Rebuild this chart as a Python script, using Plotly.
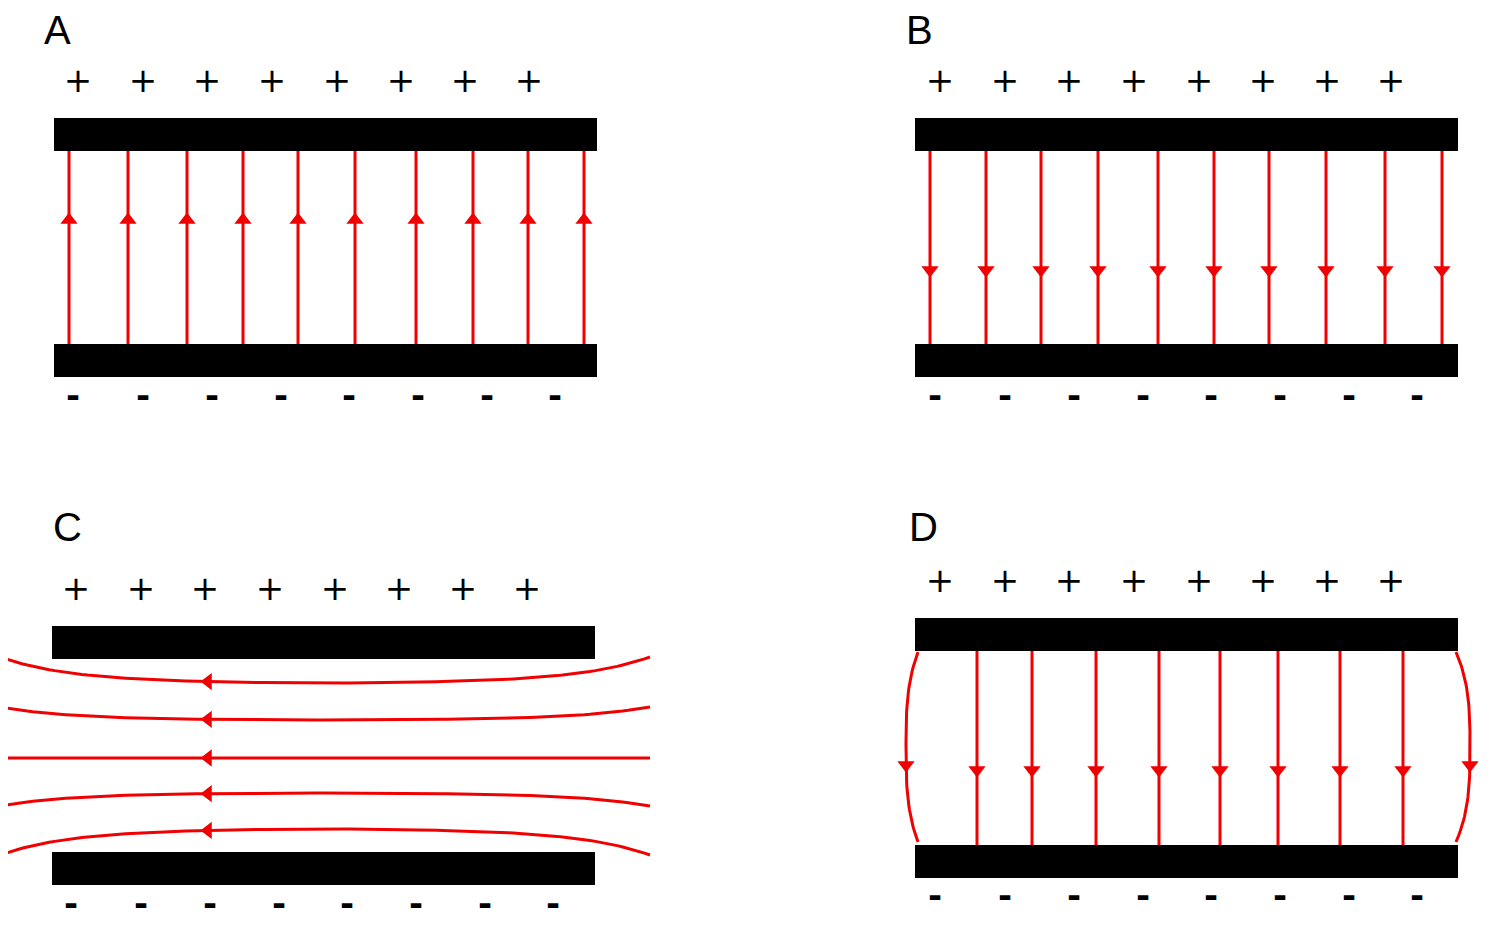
import plotly.graph_objects as go
import numpy as np

RED = "#f00000"
plus_x = [78, 143, 207, 272, 337, 401, 465, 529]
minus_x = [73, 143, 212, 281, 349, 418, 487, 555]
a_lines = [69, 128, 187, 243, 298, 355, 416, 473, 528, 584]
b_lines = [930, 986, 1041, 1098, 1158, 1214, 1269, 1326, 1385, 1442]
c_centers = [683, 720, 758, 793, 829]
c_bend = [-26, -13, 0, 13, 26]
d_lines = [977, 1032, 1096, 1159, 1220, 1278, 1340, 1403]
d_side = [(918, -12), (1456, 14)]
panels = {"A": (0, 0), "B": (862, 0), "C": (10, 497), "D": (866, 497)}

fig = go.Figure()
shapes = []
def plates(x0, y_top, y_bot):
    for y in (y_top, y_bot):
        shapes.append(dict(type="rect", x0=x0, x1=x0 + 543, y0=y, y1=y + 33,
                           fillcolor="black", line_width=0))

def seg(xs, ys):
    fig.add_trace(go.Scatter(x=xs, y=ys, mode="lines", line=dict(color=RED, width=3),
                             hoverinfo="skip"))

def arrows(xs, ys, sym):
    fig.add_trace(go.Scatter(x=xs, y=ys, mode="markers",
                             marker=dict(symbol=sym, size=15, color=RED),
                             hoverinfo="skip"))

def signs(dx, y_plus, y_minus):
    fig.add_trace(go.Scatter(x=[p + dx for p in plus_x], y=[y_plus] * 8, mode="text",
                             text=["+"] * 8, textfont=dict(size=34, color="black", family="DejaVu Sans")))
    fig.add_trace(go.Scatter(x=[p + dx for p in minus_x], y=[y_minus] * 8, mode="text",
                             text=["<b>-</b>"] * 8, textfont=dict(size=34, color="black", family="DejaVu Sans")))

# A
plates(54, 118, 344); signs(0, 83, 398)
for x in a_lines:
    seg([x, x], [150, 344])
arrows(a_lines, [220] * 10, "triangle-up")
# B
plates(915, 118, 344); signs(862, 83, 398)
for x in b_lines:
    seg([x, x], [150, 344])
arrows(b_lines, [270] * 10, "triangle-down")
# C
plates(52, 626, 852); signs(-2, 591, 906)
xs = np.linspace(0, 650, 120)
def cy(x, yc, b):
    t = (x - 325) / 325
    return yc + b * (0.4 * t ** 2 + 0.6 * t ** 6)
for yc, b in zip(c_centers, c_bend):
    seg(xs, cy(xs, yc, b))
arrows([208] * 5, [cy(208, yc, b) for yc, b in zip(c_centers, c_bend)], "triangle-left")
# D
plates(915, 618, 845); signs(862, 583, 898)
for x in d_lines:
    seg([x, x], [650, 845])
arrows(d_lines, [770] * 8, "triangle-down")
ys = np.linspace(652, 842, 60)
for x0, b in d_side:
    seg(x0 + b * (1 - np.abs((ys - 747) / 95) ** 3), ys)
arrows([x0 + b for x0, b in d_side], [765, 765], "triangle-down")

for lab, (dx, dy) in panels.items():
    fig.add_annotation(x=57 + dx, y=30 + dy, text=lab, showarrow=False,
                       font=dict(size=40, color="black", family="Liberation Sans"))

fig.update_layout(width=1500, height=939, margin=dict(l=0, r=0, t=0, b=0),
                  plot_bgcolor="white", paper_bgcolor="white", showlegend=False, shapes=shapes,
                  xaxis=dict(range=[8, 1508], visible=False),
                  yaxis=dict(range=[947, 8], visible=False))
fig.write_html("out.html")
